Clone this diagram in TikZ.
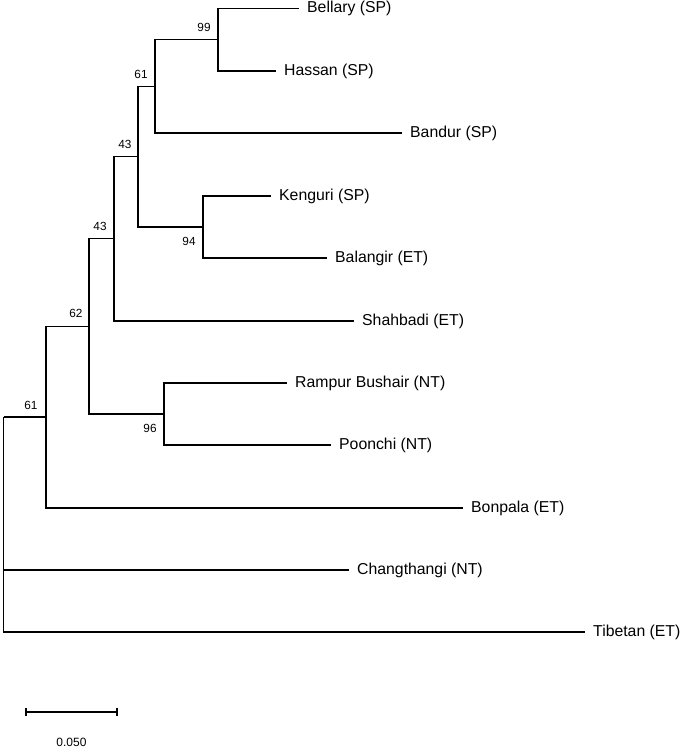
\documentclass[tikz,border=0pt]{standalone}
\usepackage{fontspec}
\setmainfont{Liberation Sans}
\begin{document}
\begin{tikzpicture}[x=1pt,y=-1pt,
  br/.style={line width=1.3pt},
  leaf/.style={anchor=west,inner xsep=8pt,inner ysep=0pt,font=\fontsize{15.8}{18}\selectfont},
  bs/.style={inner sep=0pt,font=\fontsize{11.8}{13}\selectfont},
  sc/.style={inner sep=0pt,font=\fontsize{12}{14}\selectfont}]
\useasboundingbox (0,0) rectangle (685,749);
% internal nodes
\coordinate (root) at (3.5,417);
\coordinate (n61r) at (46,417);
\coordinate (n62) at (89,326.4);
\coordinate (n43b) at (114,238.8);
\coordinate (n43a) at (138,156.7);
\coordinate (n61a) at (155,86.4);
\coordinate (n99) at (218,39.75);
\coordinate (n94) at (203,227);
\coordinate (n96) at (164,414);
% leaves
\node[leaf] (bel) at (299,8.5) {Bellary (SP)};
\node[leaf] (has) at (276,71) {Hassan (SP)};
\node[leaf] (ban) at (402,133) {Bandur (SP)};
\node[leaf] (ken) at (271,196) {Kenguri (SP)};
\node[leaf] (bal) at (327,258) {Balangir (ET)};
\node[leaf] (sha) at (354,321) {Shahbadi (ET)};
\node[leaf] (ram) at (287,383) {Rampur Bushair (NT)};
\node[leaf] (poo) at (331,445) {Poonchi (NT)};
\node[leaf] (bon) at (463,508) {Bonpala (ET)};
\node[leaf] (cha) at (349,570) {Changthangi (NT)};
\node[leaf] (tib) at (585,632) {Tibetan (ET)};
% branches
\draw[br] (root) |- (n61r);
\draw[br] (root) |- (cha.west);
\draw[br] (root) |- (tib.west);
\draw[br] (n61r) |- (n62);
\draw[br] (n61r) |- (bon.west);
\draw[br] (n62) |- (n43b);
\draw[br] (n62) |- (n96);
\draw[br] (n43b) |- (n43a);
\draw[br] (n43b) |- (sha.west);
\draw[br] (n43a) |- (n61a);
\draw[br] (n43a) |- (n94);
\draw[br] (n61a) |- (n99);
\draw[br] (n61a) |- (ban.west);
\draw[br] (n99) |- (bel.west);
\draw[br] (n99) |- (has.west);
\draw[br] (n94) |- (ken.west);
\draw[br] (n94) |- (bal.west);
\draw[br] (n96) |- (ram.west);
\draw[br] (n96) |- (poo.west);
% bootstrap values
\node[bs] (b99) at ([xshift=-14pt,yshift=12pt]n99) {99};
\node[bs] (b61a) at ([xshift=-14pt,yshift=11.5pt]n61a) {61};
\node[bs] (b43a) at ([xshift=-13pt,yshift=12pt]n43a) {43};
\node[bs] (b43b) at ([xshift=-14pt,yshift=12pt]n43b) {43};
\node[bs] (b62) at ([xshift=-13pt,yshift=13pt]n62) {62};
\node[bs] (b61r) at ([xshift=-15pt,yshift=12pt]n61r) {61};
\node[bs] (b94) at ([xshift=-14pt,yshift=-14pt]n94) {94};
\node[bs] (b96) at ([xshift=-14pt,yshift=-14pt]n96) {96};
% scale bar
\coordinate (sbl) at (26,712);
\coordinate (sbr) at (117,712);
\draw[br] (sbl) -- (sbr);
\draw[br] ([yshift=4pt]sbl) -- ([yshift=-4pt]sbl);
\draw[br] ([yshift=4pt]sbr) -- ([yshift=-4pt]sbr);
\node[sc] (sbt) at (71.5,742) {0.050};
\end{tikzpicture}
\end{document}
